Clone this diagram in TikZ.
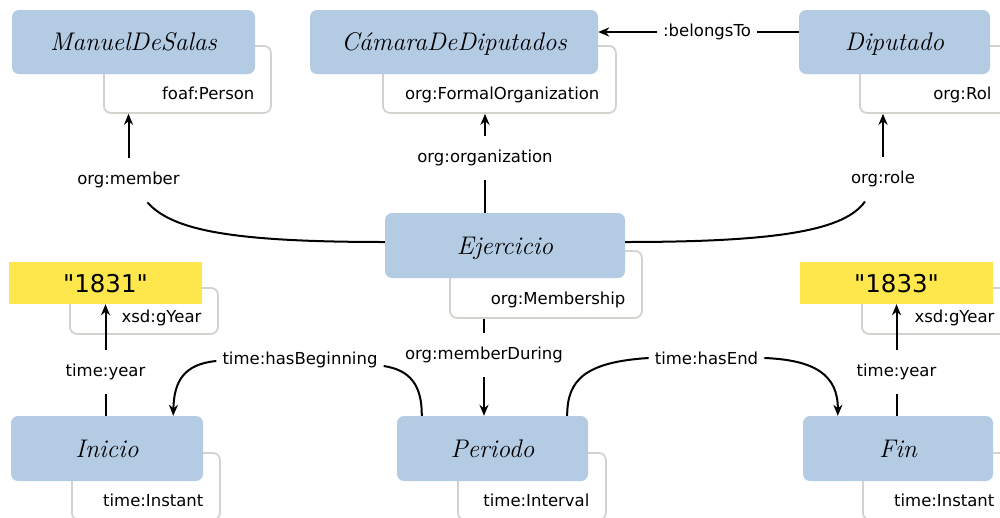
\documentclass[tikz,border=0pt]{standalone}
\usepackage{fontspec}
\usepackage{tikz}
\usetikzlibrary{calc,arrows.meta,positioning}
\newfontfamily\lblfont{DejaVu Sans}
\definecolor{clsblue}{RGB}{180,203,228}
\definecolor{lityellow}{RGB}{253,231,76}
\definecolor{typgray}{RGB}{211,211,206}
\tikzstyle{cls}=[fill=clsblue,rounded corners=7pt,inner sep=0pt,minimum height=64pt,font=\itshape\fontsize{25.5}{29}\selectfont,text height=17pt,text depth=0pt]
\tikzstyle{lit}=[fill=lityellow,inner sep=0pt,minimum height=42pt,minimum width=193pt,font=\lblfont\fontsize{24.5}{28}\selectfont,text height=18pt,text depth=0pt]
\tikzstyle{typ}=[draw=typgray,line width=1.8pt,rounded corners=7pt,fill=white,anchor=north west,align=right,inner xsep=16.5pt,inner ysep=4pt,text height=50pt,text depth=9pt,font=\lblfont\fontsize{16.5}{20}\selectfont]
\tikzstyle{typs}=[typ,text height=31pt,text depth=7pt]
\tikzstyle{lbl}=[inner xsep=6pt,inner ysep=14pt,text height=12.5pt,text depth=4pt,font=\lblfont\fontsize{16.5}{20}\selectfont]
\tikzstyle{reln}=[line width=2pt]
\tikzstyle{rel}=[reln,-{Stealth[length=11pt,width=9pt,inset=3.5pt]}]

\begin{document}
\begin{tikzpicture}[x=1pt,y=-1pt]
        \useasboundingbox (0,0) rectangle (1000,517);
        \clip (0,0) rectangle (1000,517);
        \node[typ,text width=134pt] (mant) at (103,45) {foaf:Person};
        \node[typ,text width=200pt] (camt) at (382,45) {org:FormalOrganization};
        \node[typ,text width=115pt] (dipt) at (859,45) {org:Rol};
        \node[typ,text width=159pt] (ejert) at (449,250) {org:Membership};
        \node[typs,text width=115pt] (y1831t) at (69,287) {xsd:gYear};
        \node[typs,text width=116pt] (y1833t) at (861,287) {xsd:gYear};
        \node[typ,text width=115pt] (init) at (71,452) {time:Instant};
        \node[typ,text width=115pt] (pert) at (457,452) {time:Interval};
        \node[typ,text width=115pt] (fint) at (862,452) {time:Instant};

        \node[cls,minimum width=243pt] (man) at (133.5,42) {ManuelDeSalas};
        \node[cls,minimum width=288pt] (cam) at (454,42) {CámaraDeDiputados};
        \node[cls,minimum width=191pt] (dip) at (894.5,42) {Diputado};
        \node[cls,minimum width=240pt,minimum height=65pt] (ejer) at (505,245.5) {Ejercicio};
        \node[lit] (y1831) at (105.5,283) {"1831"};
        \node[lit] (y1833) at (896.5,283) {"1833"};
        \node[cls,minimum width=192pt,minimum height=65pt] (ini) at (107,448.5) {Inicio};
        \node[cls,minimum width=191pt,minimum height=65pt] (per) at (492.5,448.5) {Periodo};
        \node[cls,minimum width=190pt,minimum height=65pt] (fin) at (898,448.5) {Fin};

        \node[lbl] (lbel) at (707,32) {:belongsTo};
        \node[lbl] (lmem) at (128.5,180) {org:member};
        \node[lbl] (lorg) at (485,158) {org:organization};
        \node[lbl] (lrole) at (883,179) {org:role};
        \node[lbl] (ldur) at (484,355) {org:memberDuring};
        \node[lbl] (lbeg) at (300,360) {time:hasBeginning};
        \node[lbl] (lend) at (706.5,360) {time:hasEnd};
        \node[lbl] (lyr1) at (105.5,372) {time:year};
        \node[lbl] (lyr2) at (896.5,372) {time:year};

        \draw[reln] (lbel.east -| dip.west) -- (lbel.east);
        \draw[rel] (lbel.west) -- (lbel.west -| cam.east);
        \draw[reln] ($(ejer.west)+(0,-3.5)$) .. controls (230,242) and (172,230) .. ($(lmem.south)+(19,0)$);
        \draw[rel] (lmem.north) -- (lmem.north |- mant.south);
        \draw[reln] (lorg.south |- ejer.north) -- (lorg.south);
        \draw[rel] (lorg.north) -- (lorg.north |- camt.south);
        \draw[reln] ($(ejer.east)+(0,-3.5)$) .. controls (780,242) and (845,230) .. ($(lrole.south)+(-18,0)$);
        \draw[rel] (lrole.north) -- (lrole.north |- dipt.south);
        \draw[reln] (ldur.north |- ejert.south) -- (ldur.north);
        \draw[rel] (ldur.south) -- (ldur.south |- per.north);
        \draw[reln] ($(per.north west)+(25,0)$) .. controls (422,385) and (410,370) .. ($(lbeg.east)+(0,6)$);
        \draw[rel] ($(lbeg.west)+(0,1)$) .. controls (185,364) and (174,380) .. ($(ini.north east)+(-30,0)$);
        \draw[reln] ($(per.north east)+(-21,0)$) .. controls (567,380) and (585,362) .. ($(lend.west)+(0,-2)$);
        \draw[rel] ($(lend.east)+(0,-2)$) .. controls (815,360) and (838,375) .. ($(fin.north west)+(35,0)$);
        \draw[reln] (ini.north -| lyr1) -- (lyr1.south);
        \draw[rel] (lyr1.north) -- (lyr1.north |- y1831.south);
        \draw[reln] (fin.north -| lyr2) -- (lyr2.south);
        \draw[rel] (lyr2.north) -- (lyr2.north |- y1833.south);
      \end{tikzpicture}
\end{document}
